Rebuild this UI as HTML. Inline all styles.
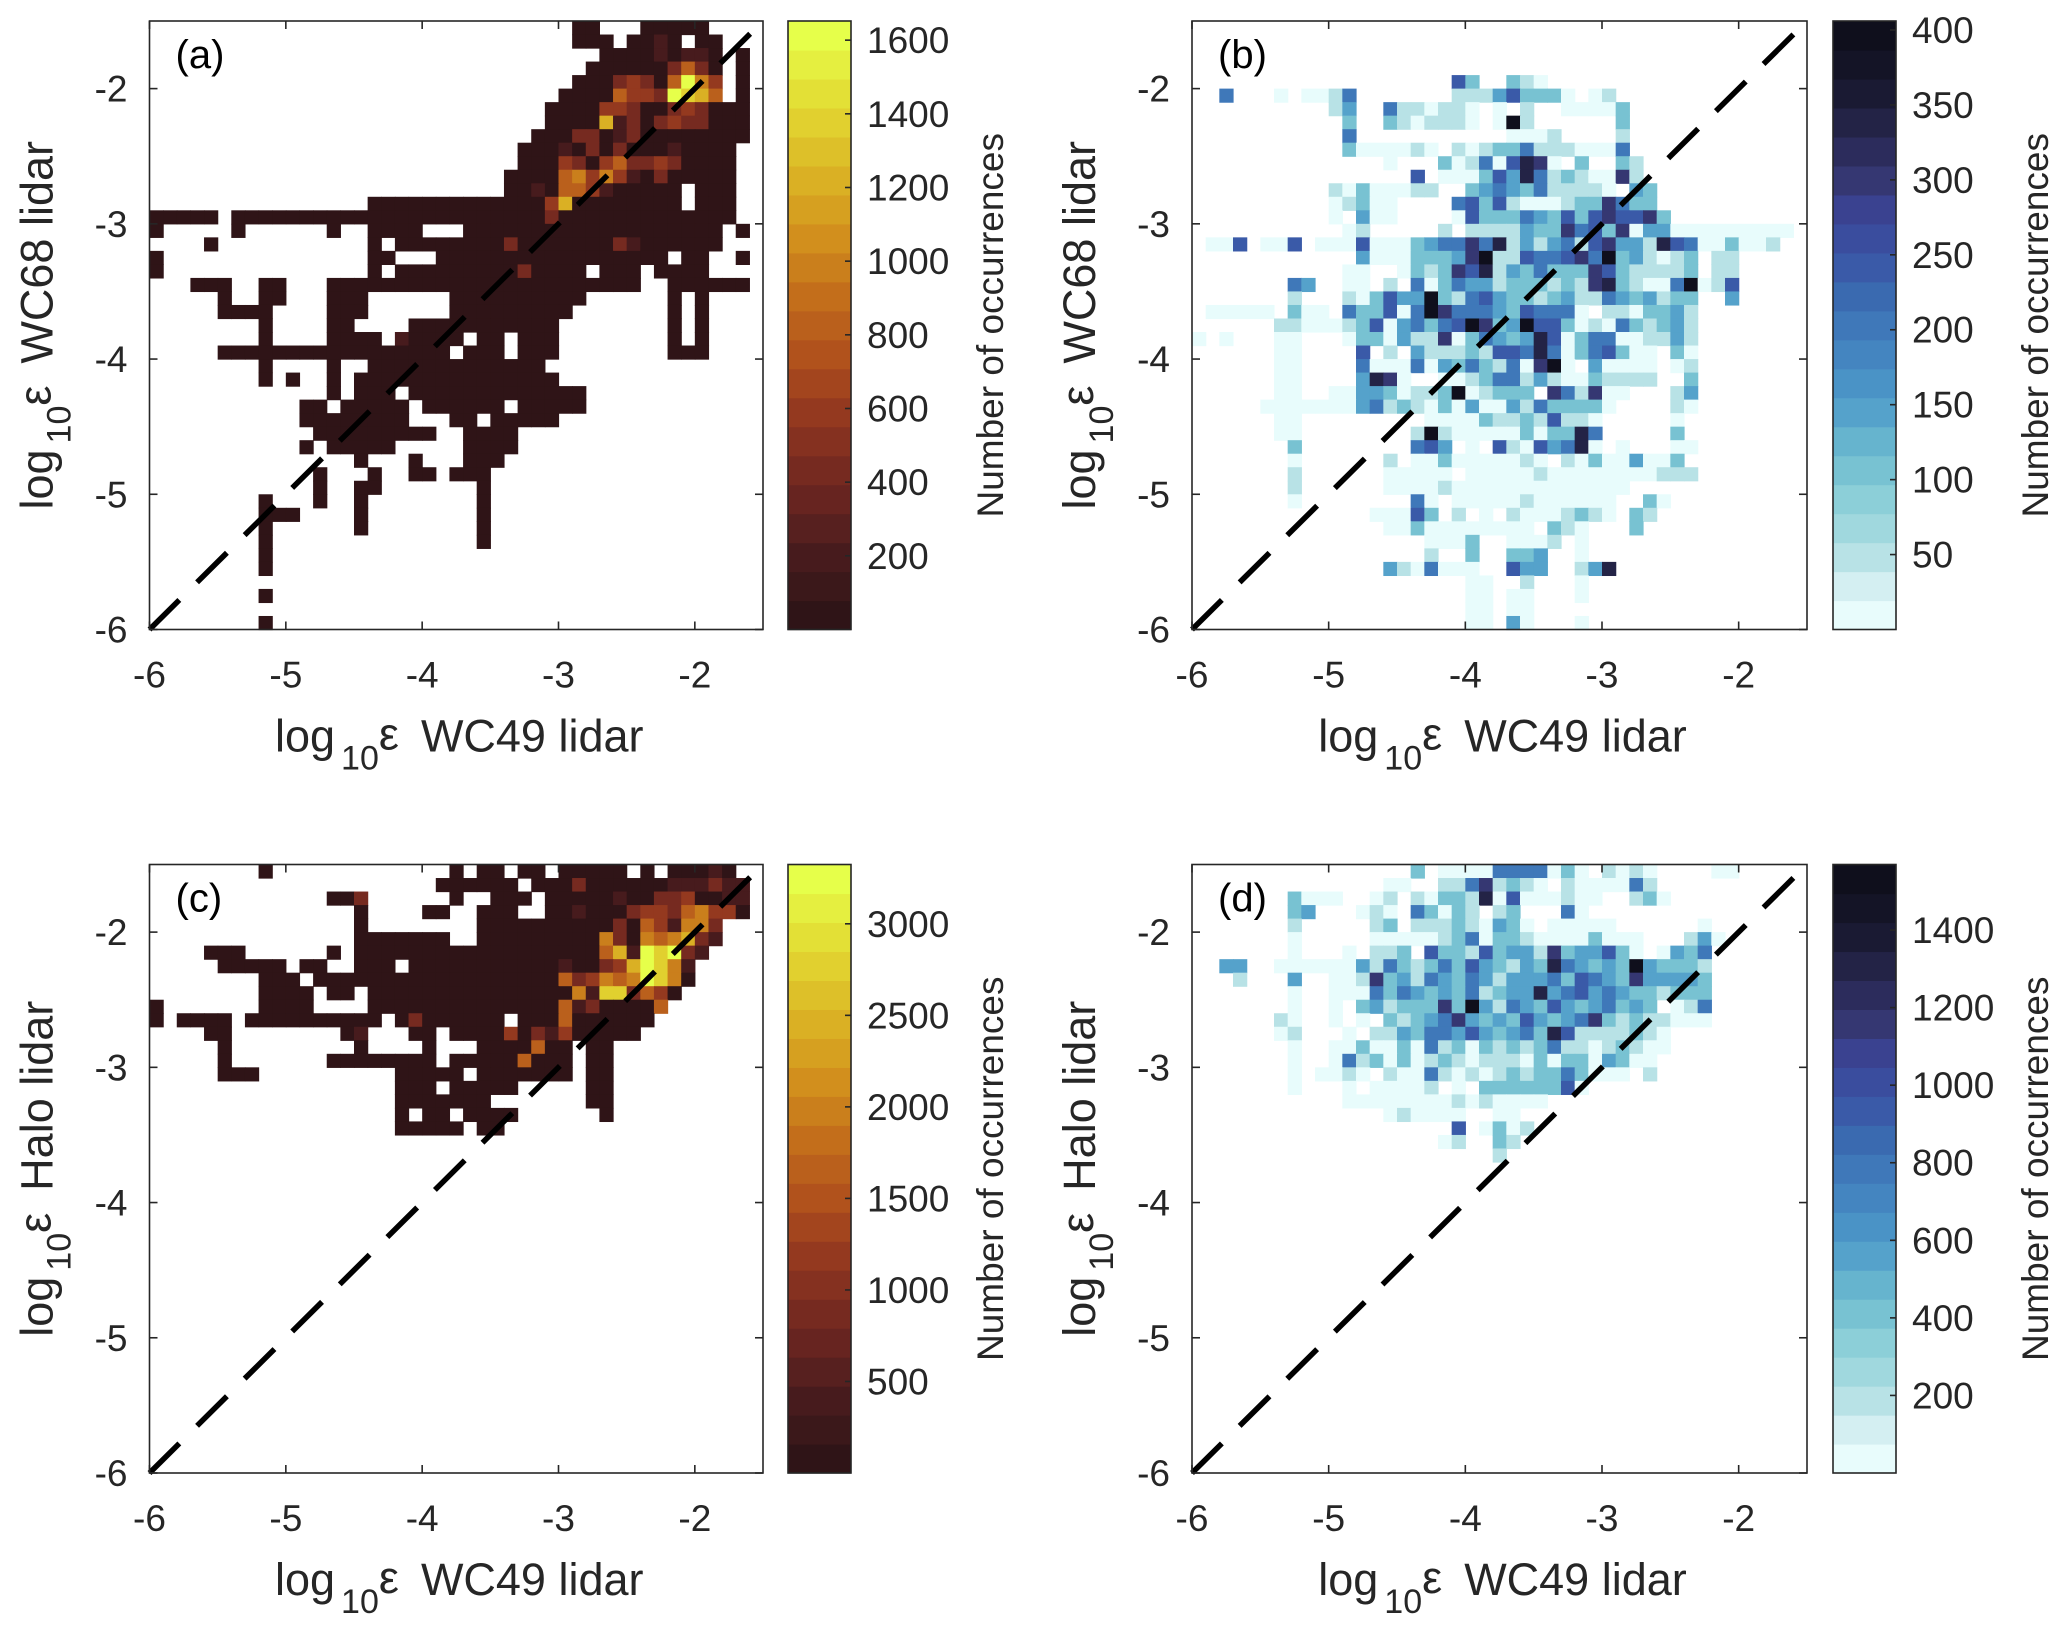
<!DOCTYPE html>
<html><head><meta charset="utf-8">
<style>
html,body{margin:0;padding:0;background:#fff;}
svg{display:block;font-family:"Liberation Sans",Arial,sans-serif;}
</style></head>
<body>
<svg id="fig" xmlns="http://www.w3.org/2000/svg" width="2067" height="1635" viewBox="0 0 2067 1635"></svg>
<script>
// ---------- DATA ----------
// Each panel: 45 rows (top row = log10 eps -1.5..-1.6), "cols:level" segments, bin width 0.1 from -6
const rowsA = [
"31-32:1 36-40:1","31-33:1 35-36:1 37:2 38:1 40-41:1","33-36:1 37:2 38:1 39-40:2 41:1 43:1",
"32-37:1 38:3 39:5 40:3 41:1 43:1","31-33:1 34:3 35:4 36:3 37:1 38:5 39:9 40:6 41:4 43:1",
"30-33:1 34:5 35:4 36:4 37:3 38:9 39:8 40:7 41:5 43:1","29-32:1 33:4 34:4 35:3 36-37:1 38:3 39:4 40:3 41-43:1",
"29-32:1 33:7 34:2 35:3 36:1 37:3 38:4 39:3 40:3 41-43:1","28-30:1 31:3 32:3 33:1 34:2 35:3 36-43:1",
"27-29:1 30:2 31:1 32:3 33:1 34:3 35-37:1 38:2 39-42:1","27-29:1 30:4 31:3 32:1 33:4 34:5 35:3 36:3 37:4 38:3 39-42:1",
"26-29:1 30:5 31:6 32:4 33:6 34:4 35:2 36:1 37:3 38-42:1","26-27:1 28:2 29:1 30:5 31:5 32:4 33:2 34-38:1 40-42:1",
"16-28:1 29:4 30:7 31-38:1 40-42:1","0-4:1 6-28:1 29:3 30-42:1","0:1 6:1 13:1 16-19:1 23-41:1 43:1",
"4:1 16:1 18-25:1 26:3 27-33:1 34:3 35:2 36-41:1","0:1 16-17:1 21-37:1 39-40:1 43:1",
"0:1 16:1 18-26:1 27:3 28-31:1 33-35:1 37-40:1","3-5:1 8-9:1 13-35:1 38-43:1",
"5:1 8-9:1 13-15:1 22-31:1 38:1 40:1","5-8:1 13-15:1 22-30:1 38:1 40:1","8:1 13-14:1 19-29:1 38:1 40:1",
"8:1 13-16:1 18:2 19-22:1 24-25:1 27-29:1 38:1 40:1","5-21:1 23-25:1 27-29:1 38-40:1","8:1 13:1 16-28:1",
"8:1 10:1 13:1 15-29:1","13:1 15-17:1 19-31:1","11-12:1 14-18:1 20-25:1 27-31:1","11-18:1 22-23:1 25-29:1",
"12-20:1 23-26:1","11:1 13-17:1 23-26:1","15:1 19:1 23-25:1","12:1 16:1 19-20:1 22-24:1","12:1 15-16:1 24:1",
"8:1 12:1 15:1 24:1","8-10:1 15:1 24:1","8:1 15:1 24:1","8:1 24:1","8:1","8:1","","8:1","","8:1"];
const rowsB = [
"","","","","19:6 20:3 23:3 24:2 25:1",
"2:5 6:1 8-9:1 10:2 11:5 19-21:2 22:4 23:6 24-25:3 26:3 27:1 29:1 30:2",
"10:2 11:4 14:5 15-16:2 17:1 18-19:2 20:1 22:1 24:2 27-30:1 31:3",
"11:3 14:3 15:2 16:1 17-19:2 20:1 22:1 23:9 24:2 31:3","11:5 23-25:1 26:2 31:2",
"11:3 12-15:1 16:2 17:1 19:2 20:1 21:2 22:3 23:3 24:5 25-27:2 28-30:1 31:5",
"14:1 18:3 19:1 20:2 21:5 22:1 23:6 24:8 25:7 26:1 28:3 31:3 32:2",
"16:6 18-20:1 21:3 22:6 23:4 24:8 25:5 26:2 27:3 28:2 29-30:1 31:7 32:2",
"10:2 11:1 12:3 13-15:1 16-17:2 20:3 21:4 22:5 23:4 24:3 25:5 26:2 27-29:2 30:1 32:4 33:3",
"10:1 11:2 12:3 13-14:1 19:5 20:6 21:3 22:6 23:2 24-26:1 27:2 28-29:3 30:7 31:5 32-33:3",
"10:1 12:4 13-14:1 19:1 20:6 21-22:3 23:3 24:5 25:4 26:3 27:6 28:3 29:6 30:7 31:6 32:6 33:7 34:3",
"11:1 12:2 18:2 20-22:2 23:2 24:4 25:3 26:3 27:7 28:5 29:6 30:3 31:7 32:1 33-34:4 35-43:1",
"1-2:1 3:6 5-6:1 7:6 9-11:1 12:6 13-15:1 16:3 17:4 18:5 19:5 20:7 21:5 22:8 23:2 24:4 25:2 26:4 27:5 28:2 29:6 30:7 31:4 32:4 33:2 34:8 35:6 36:5 37-38:1 39:3 40-41:1 42:2",
"12:4 13-15:1 16:3 17-18:3 19:4 20:7 21:9 22:2 23:2 24:6 25:5 26:5 27:6 28:7 29:5 30:9 31:3 32:4 33:2 34:1 35:2 36:3 38-39:2",
"11-12:1 15:1 16:3 17:2 18:3 19:7 20:6 21:8 22:2 23:4 24:3 25:5 26-28:3 29:7 30:6 31:3 32-35:2 36:3 38-39:2",
"7:5 8:4 11-12:1 14:2 16:5 17:1 18:3 19:5 20-21:4 22:2 23-25:3 26:2 27:3 28:2 29:7 30:8 31:3 32:2 33-34:1 35:5 36:9 37:1 38:2 39:6",
"7:2 11:2 12:1 13:3 14:6 15-16:4 17:9 18:3 19:2 20:5 21:6 22:4 23-24:3 25:2 26:3 27:4 28-29:2 30:5 31:4 32:3 33:4 34:2 35-36:3 39:4",
"1-5:1 7:3 8-9:1 11:5 12-13:3 14:6 15:1 16:5 17:9 18:7 19-21:5 22:4 23:3 24:6 25-27:5 28:1 30-31:2 32:1 33-34:3 35:4 36:2",
"6-7:2 8-10:1 11:2 12:3 13:6 14:1 15:4 16:5 17:3 18:5 19:6 20:9 21:7 22:3 23:4 24:9 25-26:6 27:3 28:1 29:2 30:1 31:5 32:3 33:2 34:3 35:4 36:2",
"0:1 2:1 6-7:1 11:1 12-13:3 14:1 15:4 16-17:2 18:7 19:1 20:3 21:5 22:4 23:3 24:4 25:8 26:6 27:1 28:3 29-30:5 31-32:1 33-34:2 35:4 36:2",
"6-7:1 12:6 14:2 16:4 17-19:2 20:3 21:2 22-23:6 24:5 25:8 26:5 27:1 28:3 29:5 30:6 31:3 32-33:1 35:3 36:1",
"6-7:1 12:5 13-15:1 16:5 17:1 18:4 19:3 20:5 21:3 22:2 23:5 24:1 25:7 26:9 27:1 29:4 30-33:1 35:1 36:2",
"6-7:1 12:4 13:8 14:7 15:1 18-19:1 20:2 21:3 22-23:5 24:2 25:4 26:2 27-28:1 29:3 30-33:2 36:3",
"6-7:1 10-11:1 12-13:4 14:3 15:1 16-17:2 18:3 19:9 20:1 21:2 22-24:3 26:7 27:5 28:2 29:7 30-31:1 35:2 36:4",
"5-11:1 12:4 13:5 14:2 15:3 16:2 17:1 18:3 19:1 20:4 21-22:1 23:4 24:2 25:5 26:3 27-29:3 30:1 35:2 36:1",
"6-7:1 17-20:1 21:3 22-23:2 24:3 25:2 26:6 27-28:2 29:1 35:1",
"6-7:1 16:2 17:9 18:2 19-23:1 24:3 25:1 26-27:3 28:8 29:5 35:3",
"7:3 16:5 17:6 18:4 20:1 22:6 23:2 24:1 25:6 26:4 27:5 28:8 29:1 31:1 35-36:1",
"7:1 14:2 16-17:1 18:3 19-23:1 24:2 25:1 27:2 28:1 29:3 30-31:1 32:4 33-34:1 35:3",
"7:2 14-18:1 20-24:1 25:2 26-33:1 34-36:2","7:2 14-17:1 18:2 19-31:1",
"7:1 16:5 17:1 19-23:1 24:2 25-30:1 33:3 34:1",
"13-15:1 16:6 17:3 19:2 21:1 23:2 24-26:1 27:2 28:3 29:2 30:1 32:3 33:2",
"14-15:1 16:3 17-24:1 26:3 27:2 28:1 32:3","17-19:1 20:3 23-25:1 26:2 28:1",
"17:2 20:3 23-24:3 25:4 28:1","14:4 15:2 16:1 17:5 18-20:1 23:6 24-25:4 28:2 29:4 30:8",
"20-21:1 24:2 28:1","20-21:1 23-24:1 28:1","20-21:1 23-24:1","20-21:1 23:4 24:1 28:1"];
const rowsC = [
"8:1 22:1 24-25:1 27-28:1 30-34:1 36:1 38-40:1 41:2 42:1",
"21-23:1 24-26:1 28-30:1 31:3 32-36:1 37:1 38-40:2 41:3 42-43:2",
"13-14:1 15:3 22:1 25-27:1 29-33:1 34:2 35-36:1 37-38:3 39:4 40-41:1 42-43:2",
"15:1 20-21:1 24-26:1 29-30:1 31:2 32-34:1 35:3 36:4 37:4 38:3 39:5 40:6 41-42:4 43:1",
"15:1 24-28:1 29-33:1 34:3 35:1 36:5 37:4 38:2 39:6 40:6 41:3",
"15-21:1 24-32:1 33:6 34:3 35:1 36:6 37:5 38:6 39:7 40:3 41:2",
"4-6:1 13:1 15-32:1 33:5 34:7 35:2 36:9 37:8 38:9 39:3 40:2",
"5-9:1 11-12:1 15-17:1 19-29:1 30:2 31-32:1 33:3 34:4 35:7 36:9 37:8 38:6 39:2",
"8-10:1 12-29:1 30:5 31:3 32:4 33:6 34:5 35:6 36:9 37:8 38:6 39:1",
"8-11:1 13-14:1 16-30:1 31:6 32:2 33:8 34:8 35:3 36:5 37:4 38:1",
"0:1 8-11:1 16-29:1 30:5 31:2 32:3 33-36:1 37:5",
"0:1 2-5:1 7-16:1 18:1 19:3 20-25:1 27-29:1 30:5 31-36:1",
"4-5:1 14:1 15:2 19-20:1 22-25:1 26:4 27:1 28:3 29:2 30:4 31-35:1",
"5:1 15:1 20:1 24-27:1 28:5 29-30:1 32-33:1",
"5:1 13-18:1 19-20:1 22-26:1 27:5 28-30:1 32-33:1",
"5-7:1 18-22:1 24-30:1 32-33:1","18-20:1 22-26:1 32-33:1","18-24:1 32-33:1",
"18:1 20-21:1 23-26:1 33:1","18-22:1 24-25:1"];
const rowsD = [
"16:3 18-21:1 22-25:5 26:1 27:3 28:1 30:2 31:1 32:2 33:1 38-39:1",
"14-15:1 18-19:2 20:5 21:7 22:2 23:3 24:2 25:1 27:2 28-31:1 32:5 33:2",
"7:3 8-10:1 13:1 14:2 16:2 17:1 18-19:3 20:2 21:8 22:1 23:6 24-26:1 27:2 28-29:1 32:2 33:3 34:1",
"7:3 8:4 12:1 13:2 14:1 16:5 17:3 18:1 19:3 20:2 22:2 23:3 27:5 28:1",
"7:2 13:2 14:3 16-18:2 19:3 20:2 21:1 22:4 23:3 24:1 26-30:1 37:1",
"7:1 13-17:1 18:2 19:3 20:5 21:1 22-23:3 24:2 25-28:1 29:3 30-32:1 36:2 37:4 38:1",
"7:1 11:1 13-14:2 15:3 17:6 18-19:3 20:2 21:6 22:3 23-24:4 25:2 26:7 27:3 28-29:4 30:6 31:3 32:1 34:1 35:4 36:3 37:5",
"2-3:4 6-11:1 12:4 13:2 14:5 15:3 16:2 17:3 18:5 19:3 20:6 21:4 22:3 23:2 24:4 25:3 26:8 27:5 28:4 29:3 30:4 31:3 32:9 33:4 34-36:3 37:2",
"3:2 7:4 10-11:1 12:2 13:7 14:3 15:4 16:2 17:5 18:4 19:3 20:5 21:4 22:2 23-25:4 26:5 27:3 28:6 29:5 30:4 31:3 32:7 33-36:4 37:3",
"7:1 10-12:1 13:5 14:3 15:5 16:4 17:3 18:4 19:3 20:5 21:2 22:3 23-24:4 25:8 26:4 27:5 28:6 29:4 30:5 31:4 32-33:3 34:2 35-37:3",
"7:1 10:1 12:3 13:4 14:2 15-17:3 18:7 19:3 20:9 21:4 22:2 23:5 24:4 25:3 26:6 27:4 28:3 29:4 30:5 31:3 32:4 33:3 35:1 36:2 37:5",
"6:2 7:1 10:1 12:1 14:3 15:2 16:3 17:4 18:5 19:7 20:4 21:3 22:4 23:3 24:6 25:4 26:3 27:4 28:5 29:7 30:3 31:2 32:3 33-34:2 35-37:1",
"6:1 7:2 11:1 13-14:2 15:4 16:3 17-18:5 19:4 20:6 21:4 22:3 23:4 24:5 25:3 26:8 27:6 28-31:2 32:3 33:2 34:1",
"7:1 10-11:1 12:3 13-14:1 15:3 16:1 17:5 18:2 19:3 20:1 21:3 22:2 23:3 24:2 25:3 26:5 27-28:2 29:1 30:2 31:3 32:2 33-34:1",
"7:1 10:1 11:5 12:2 13:3 14:1 15:3 16:1 17:2 18:3 19:2 20:1 21-23:2 24:1 25:3 26:1 27-28:3 29:1 30:4 31:3 32-33:1",
"7:1 9-10:1 11:2 12:1 14:2 15-16:1 17:5 18:2 19:1 20:2 21:1 22:2 23:3 24:2 25-26:3 27:5 28:3 29-31:1 33:2",
"7:1 11:1 13-16:1 17:2 19:1 21-26:3 27:6 28:1","11-18:1 19:2 20:1 21:2 22-25:1",
"14:1 15:2 16-19:1 22-23:1","19:6 21:1 22:3 23:1 24:2","18:1 19:2 22:3 23:2","22:2"];
const maxA = 1652, maxB = 406, maxC = 3324, maxD = 1569;
const ticksA = [200,400,600,800,1000,1200,1400,1600];
const ticksB = [50,100,150,200,250,300,350,400];
const ticksC = [500,1000,1500,2000,2500,3000];
const ticksD = [200,400,600,800,1000,1200,1400];
const axisTicks = [-6,-5,-4,-3,-2];

// ---------- COLORMAPS ----------
const hotAnchors = ["#2f1417","#4a1c1e","#6e2620","#8f3520","#b0501c","#c4701b","#d4951d","#dcb926","#e3dc34","#e6ff4a"];
const blueBands = ["#e8fcfc","#d4eff2","#b8e2e6","#a0d8de","#8ccfd8","#78c2d2","#66b4ce","#55a2cb","#4a93c6","#4485c0","#3f78b9","#3a6ab0","#3a5aa8","#3a4d9e","#3a4290","#353772","#2c2c5c","#232346","#1a1a33","#141426","#0f0f1c"];
const NB = 21;
function hex2rgb(h){return [parseInt(h.substr(1,2),16),parseInt(h.substr(3,2),16),parseInt(h.substr(5,2),16)];}
function interp(anchors,t){
  const n=anchors.length-1; const p=Math.max(0,Math.min(1,t))*n; const i=Math.min(n-1,Math.floor(p)); const f=p-i;
  const a=hex2rgb(anchors[i]), b=hex2rgb(anchors[i+1]);
  return "rgb("+a.map((v,k)=>Math.round(v+(b[k]-v)*f)).join(",")+")";
}
const hotBands=[]; for(let i=0;i<NB;i++) hotBands.push(interp(hotAnchors,i/(NB-1)));

const NS="http://www.w3.org/2000/svg";
const svg=document.getElementById("fig");
function el(tag,attrs,parent){const e=document.createElementNS(NS,tag);for(const k in attrs)e.setAttribute(k,attrs[k]);(parent||svg).appendChild(e);return e;}
const INK="#262626";

function parseRows(rows){
  const cells=[];
  rows.forEach((r,ri)=>{ if(!r) return; r.split(" ").forEach(seg=>{
    const [cs,lv]=seg.split(":"); const pr=cs.split("-"); const c0=+pr[0], c1=pr.length>1?+pr[1]:c0;
    for(let c=c0;c<=c1;c++) cells.push({row:ri,col:c,level:+lv});
  });});
  return cells;
}

function panel(opt){
  const g=el("g",{});  
  const L=opt.x0,R=opt.x1,T=opt.y0,B=opt.y1;
  const xs=v=>L+(v+6)/4.5*(R-L), ys=v=>B-(v+6)/4.5*(B-T);
  const bands=opt.bands;
  const cg=el("g",{},g);  
  parseRows(opt.rows).forEach(c=>{
    const count=(c.level-1)/8*0.95*opt.max+opt.max*0.01;
    const bi=Math.min(NB-1,Math.floor(count/opt.max*NB));
    const vx=-6+0.1*c.col, vy=-1.5-0.1*c.row;
    const x=xs(vx), y=ys(vy), w=xs(vx+0.1)-x, h=ys(vy-0.1)-y;
    const r=el("rect",{x:x.toFixed(2),y:y.toFixed(2),width:(w+0.6).toFixed(2),height:(h+0.6).toFixed(2),fill:bands[bi]},cg);
    
    
  });
  const ln=el("line",{x1:xs(-6),y1:ys(-6),x2:xs(-1.5),y2:ys(-1.5),stroke:"#000","stroke-width":5.5,"stroke-dasharray":"42 25"},g);
   
  const fr=el("rect",{x:L,y:T,width:R-L,height:B-T,fill:"none",stroke:INK,"stroke-width":1.6},g);
   
  axisTicks.forEach(t=>{
    const x=xs(t), y=ys(t);
    el("line",{x1:x,y1:B,x2:x,y2:B-8,stroke:INK,"stroke-width":1.6},g);
    el("line",{x1:x,y1:T,x2:x,y2:T+8,stroke:INK,"stroke-width":1.6},g);
    el("line",{x1:L,y1:y,x2:L+8,y2:y,stroke:INK,"stroke-width":1.6},g);
    el("line",{x1:R,y1:y,x2:R-8,y2:y,stroke:INK,"stroke-width":1.6},g);
    const tx=el("text",{x:x,y:B+58,"font-size":37,fill:INK,"text-anchor":"middle"},g); tx.textContent=String(t);
     
    const ty=el("text",{x:L-22,y:y+13,"font-size":37,fill:INK,"text-anchor":"end"},g); ty.textContent=String(t);
     
  });
  const pl=el("text",{x:L+26,y:T+47,"font-size":40,fill:"#000"},g); pl.textContent=opt.label;
   
  const xt=el("text",{x:(L+R)/2+3,y:B+122,"font-size":45,fill:INK,"text-anchor":"middle"},g);
   
  xt.innerHTML='log<tspan font-size="34" dx="6" dy="18">10</tspan><tspan dy="-20">ε</tspan><tspan dx="22" dy="2">WC49 lidar</tspan>';
  const yx=L-97, yc=(T+B)/2;
  const yt=el("text",{x:yx,y:yc,"font-size":45,fill:INK,"text-anchor":"middle",transform:"rotate(-90 "+yx+" "+yc+")"},g);
   
  yt.innerHTML='log<tspan font-size="34" dx="6" dy="18">10</tspan><tspan dy="-20">ε</tspan><tspan dx="22" dy="2">'+opt.ytitle+'</tspan>';
  const cb=el("g",{},g);  
  const CL=opt.cb0, CR=opt.cb1, bh=(B-T)/NB;
  for(let i=0;i<NB;i++){
    const r=el("rect",{x:CL,y:(B-(i+1)*bh).toFixed(2),width:CR-CL,height:(bh+0.6).toFixed(2),fill:bands[i]},cb);
     
  }
  el("rect",{x:CL,y:T,width:CR-CL,height:B-T,fill:"none",stroke:INK,"stroke-width":1.6},cb);
  opt.ticks.forEach(t=>{
    const y=B-t/opt.max*(B-T);
    el("line",{x1:CR,y1:y,x2:CR-6,y2:y,stroke:INK,"stroke-width":1.6},cb);
    const tt=el("text",{x:CR+16,y:y+13,"font-size":37,fill:INK},cb); tt.textContent=t;
     
  });
  const cx=CR+152, cy=(T+B)/2;
  const ct=el("text",{x:cx,y:cy,"font-size":37,fill:INK,"text-anchor":"middle",transform:"rotate(-90 "+cx+" "+cy+")"},cb);
  ct.textContent="Number of occurrences";
   
}

panel({name:"panel-a",label:"(a)",rows:rowsA,max:maxA,ticks:ticksA,bands:hotBands,ytitle:"WC68 lidar",x0:149.5,x1:763,y0:21,y1:629.5,cb0:788,cb1:851});
panel({name:"panel-b",label:"(b)",rows:rowsB,max:maxB,ticks:ticksB,bands:blueBands,ytitle:"WC68 lidar",x0:1192,x1:1807,y0:21,y1:629.5,cb0:1833,cb1:1896});
panel({name:"panel-c",label:"(c)",rows:rowsC,max:maxC,ticks:ticksC,bands:hotBands,ytitle:"Halo lidar",x0:149.5,x1:763,y0:864.5,y1:1473,cb0:788,cb1:851});
panel({name:"panel-d",label:"(d)",rows:rowsD,max:maxD,ticks:ticksD,bands:blueBands,ytitle:"Halo lidar",x0:1192,x1:1807,y0:864.5,y1:1473,cb0:1833,cb1:1896});
</script>
</body></html>
